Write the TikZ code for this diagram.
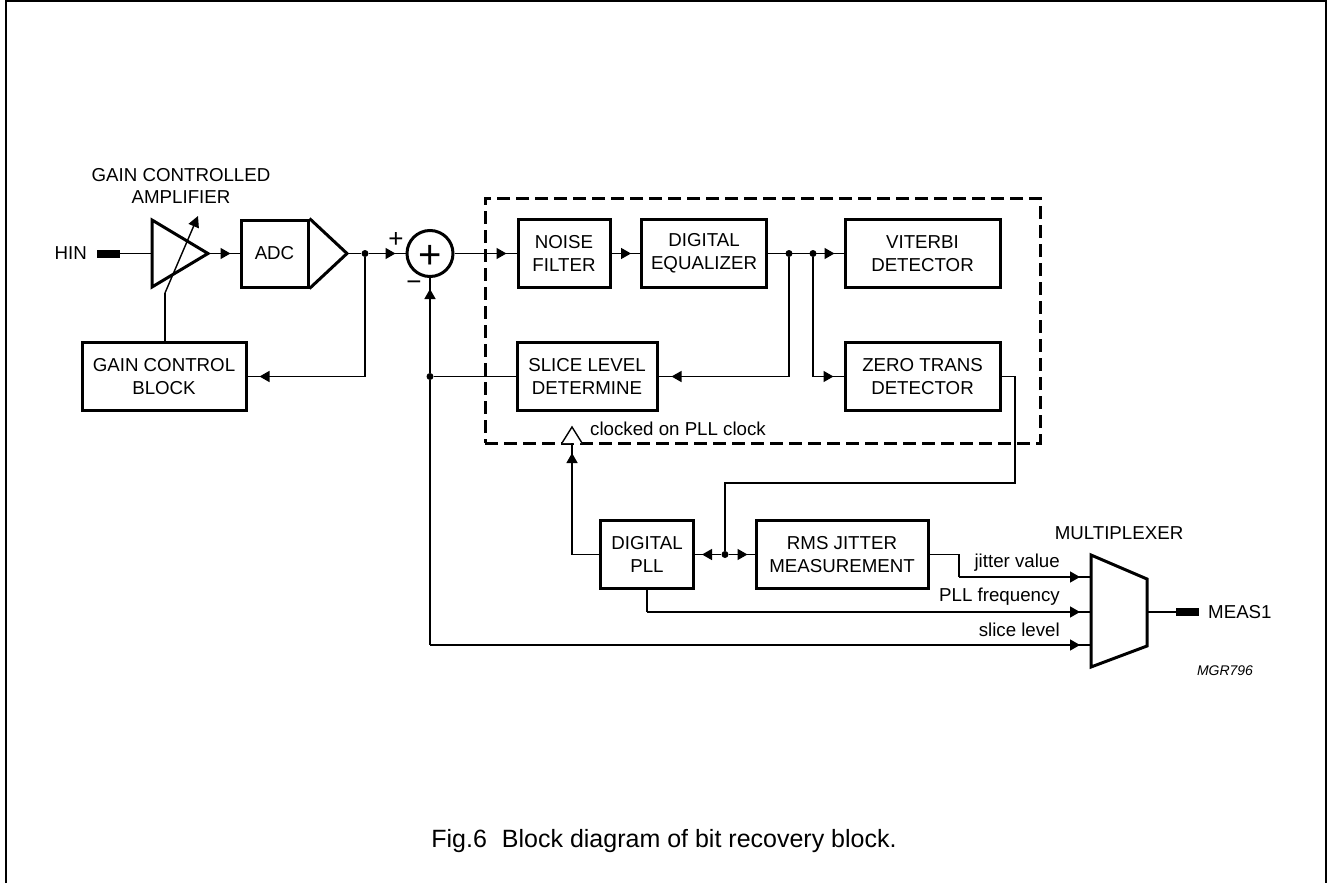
\documentclass[tikz,border=0pt]{standalone}
\usepackage{fontspec}
\setmainfont{Liberation Sans}
\usetikzlibrary{arrows.meta,decorations.markings}
\tikzset{
  thinline/.style={line width=1.4pt},
  thickline/.style={line width=3pt},
  blockbox/.style={draw, thickline, rectangle, align=center, inner sep=0pt, font=\fontsize{18.7}{22.7}\selectfont},
  tipat/.style={postaction={decorate}, decoration={markings, mark=at position #1 with {\arrow{Triangle[length=10pt,width=11pt]}}}},
  dotnode/.style={circle, fill, inner sep=0pt, minimum size=7pt},
  padnode/.style={rectangle, fill, inner sep=0pt, minimum width=23pt, minimum height=8pt},
  lbl/.style={inner sep=0pt, align=center, font=\fontsize{18.7}{22.7}\selectfont},
}
\begin{document}
\begin{tikzpicture}[x=1pt,y=-1pt]
\useasboundingbox (0,0) rectangle (1327,883);
\draw[line width=2pt] (5.8,883) -- (5.8,1) -- (1326,1) -- (1326,883);
\node[draw, thickline, dashed, dash pattern=on 13pt off 6pt, minimum width=555pt, minimum height=245pt, inner sep=0pt] (clockarea) at (762.5,320.5) {};
\node[lbl] (gcalbl) at (181,186) {GAIN CONTROLLED\\AMPLIFIER};
\node[lbl, anchor=east] (hinlbl) at (87,253.5) {HIN};
\node[padnode] (hinpad) at (108.5,253.5) {};
\coordinate (ampin) at (152,253.5);
\coordinate (ampout) at (208,253.5);
\coordinate (ampctrl) at (165,293);
\coordinate (ampset) at (198,216);
\node[blockbox, minimum width=67pt, minimum height=67pt] (adc) at (274.5,253.5) {ADC};
\coordinate (adcout) at (347,253.5);
\node[dotnode] (tapa) at (365,253.5) {};
\node[draw, thickline, circle, minimum size=46pt, inner sep=0pt] (sum) at (430,253.5) {};
\node[lbl, font=\fontsize{40}{40}\selectfont] (sumplus) at (430,257) {+};
\node[lbl, font=\fontsize{26}{26}\selectfont] (pluslbl) at (396,240) {+};
\node[lbl, font=\fontsize{26}{26}\selectfont] (minuslbl) at (414,286) {\char"2212};
\node[blockbox, minimum width=164pt, minimum height=68pt] (gcb) at (164,376.5) {GAIN CONTROL\\BLOCK};
\node[blockbox, minimum width=92pt, minimum height=68pt] (noise) at (564,253.5) {NOISE\\FILTER};
\node[blockbox, minimum width=125pt, minimum height=68pt] (equal) at (704,253.5) {DIGITAL\\EQUALIZER};
\node[blockbox, minimum width=155pt, minimum height=68pt] (viterbi) at (922.5,253.5) {VITERBI\\DETECTOR};
\node[blockbox, minimum width=155pt, minimum height=68pt] (zero) at (922.5,376.5) {ZERO TRANS\\DETECTOR};
\node[blockbox, minimum width=140pt, minimum height=68pt] (slice) at (587,376.5) {SLICE LEVEL\\DETERMINE};
\node[dotnode] (tapb) at (789,253.5) {};
\node[dotnode] (tapc) at (813,253.5) {};
\node[dotnode] (tapd) at (430,376.5) {};
\node[lbl, anchor=west] (clklbl) at (590,429) {clocked on PLL clock};
\coordinate (clkbase) at (572,443);
\coordinate (clkleft) at (562,443);
\coordinate (clkright) at (582,443);
\coordinate (clktop) at (572,427);
\node[blockbox, minimum width=93pt, minimum height=68pt] (pll) at (647,554.5) {DIGITAL\\PLL};
\node[blockbox, minimum width=172pt, minimum height=68pt] (rms) at (842,554.5) {RMS JITTER\\MEASUREMENT};
\node[dotnode] (tape) at (725,554.5) {};
\coordinate (muxa) at (1091,555);
\coordinate (muxb) at (1147,579);
\coordinate (muxc) at (1147,646);
\coordinate (muxd) at (1091,667);
\coordinate (muxja) at (1091,577);
\coordinate (muxpl) at (1091,612);
\coordinate (muxsl) at (1091,645);
\coordinate (muxout) at (1147,612);
\coordinate (rmsbend) at (959,554.5);
\coordinate (rmsdrop) at (959,577);
\coordinate (zerobend) at (1015,376.5);
\coordinate (zerodrop) at (1015,483);
\coordinate (zeroback) at (725,483);
\coordinate (pllbend) at (572,554.5);
\node[padnode] (measpad) at (1187.5,612) {};
\node[lbl, anchor=west] (measlbl) at (1208,612) {MEAS1};
\node[lbl] (muxlbl) at (1119,533) {MULTIPLEXER};
\node[lbl, anchor=east] (jitlbl) at (1060,563) {jitter value};
\node[lbl, anchor=east] (pfqlbl) at (1060,597) {PLL frequency};
\node[lbl, anchor=east] (sllbl) at (1060,630) {slice level};
\node[lbl, font=\fontsize{14}{16}\selectfont\itshape] (mgrlbl) at (1225,671) {MGR796};
\node[lbl, font=\fontsize{25}{30}\selectfont] (figlbl) at (664,841) {Fig.6\hspace{0.6em}Block diagram of bit recovery block.};
\draw[thickline] (ampin |- 0,220) -- (ampin |- 0,287) -- (ampout) -- cycle;
\draw[thickline] (adc.north east) -- (adcout) -- (adc.south east);
\draw[thickline] (muxa) -- (muxb) -- (muxc) -- (muxd) -- cycle;
\draw[thinline, fill=white] (clkleft) -- (clktop) -- (clkright);
\draw[thinline] (hinpad) -- (ampin);
\draw[thinline, tipat=-9pt] (ampout) -- (adc);
\draw[thinline] (adcout) -- (tapa);
\draw[thinline, tipat=-10pt] (tapa) -- (sum);
\draw[thinline] (gcb.north -| ampctrl) -- (ampctrl);
\draw[thinline, -{Triangle[length=11pt,width=11pt]}] (ampctrl) -- (ampset);
\draw[thinline, tipat=-12pt] (tapa) |- (gcb);
\draw[thinline, tipat=-10pt] (sum) -- (noise);
\draw[thinline, tipat=-9pt] (noise) -- (equal);
\draw[thinline, tipat=-9pt] (equal) -- (viterbi);
\draw[thinline, tipat=-13pt] (tapb) |- (slice);
\draw[thinline, tipat=-10pt] (tapc) |- (zero);
\draw[thinline] (slice) -- (tapd);
\draw[thinline, tipat=-11pt] (tapd) -- (sum);
\draw[thinline] (tapd) -- (tapd |- muxsl);
\draw[thinline, tipat=-11pt] (tapd |- muxsl) -- (muxsl);
\draw[thinline, tipat=-11pt] (pll.south |- muxpl) -- (muxpl);
\draw[thinline] (pll.south) -- (pll.south |- muxpl);
\draw[thinline] (zero.east) -- (zerobend) -- (zerodrop) -- (zeroback) -- (tape);
\draw[thinline, tipat=-7pt] (tape) -- (pll);
\draw[thinline, tipat=-7pt] (tape) -- (rms);
\draw[thinline] (pll.west) -- (pllbend);
\draw[thinline, tipat=-10pt] (pllbend) -- (clkbase);
\draw[thinline] (rms.east) -- (rmsbend) -- (rmsdrop);
\draw[thinline, tipat=-11pt] (rmsdrop) -- (muxja);
\draw[thinline] (muxout) -- (measpad);
\end{tikzpicture}
\end{document}
